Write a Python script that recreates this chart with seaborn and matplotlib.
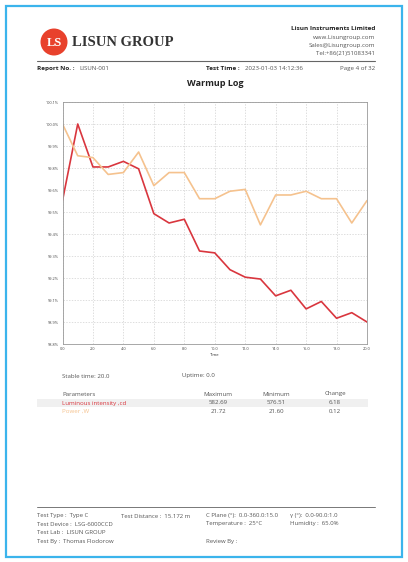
import numpy as np
import pandas as pd
import matplotlib
matplotlib.use("Agg")
import matplotlib.pyplot as plt
from matplotlib.patches import Rectangle, Ellipse
from matplotlib.lines import Line2D
import seaborn as sns

# warmup log data (percent of maximum)
time = list(range(0, 21))
luminous = [99.59, 100.00, 99.77, 99.77, 99.80, 99.76, 99.52, 99.47, 99.49, 99.32, 99.31,
            99.22, 99.18, 99.17, 99.08, 99.11, 99.01, 99.05, 98.96, 98.99, 98.94]
power = [100.00, 99.83, 99.82, 99.73, 99.74, 99.85, 99.67, 99.74, 99.74, 99.60, 99.60,
         99.64, 99.65, 99.46, 99.62, 99.62, 99.64, 99.60, 99.60, 99.47, 99.59]
series_names = ["Luminous intensity ,cd", "Power ,W"]
series_colors = ["#d9363e", "#f5c28e"]

# summary table
param_max = ["582.69", "21.72"]
param_min = ["576.51", "21.60"]
param_change = ["6.18", "0.12"]

df = pd.DataFrame({
    "Time": time * 2,
    "value": luminous + power,
    "series": [series_names[0]] * len(time) + [series_names[1]] * len(time),
})

sns.set_style("white")
plt.rcParams["font.family"] = ["Open Sans", "DejaVu Sans"]

W, H = 408, 562
fig = plt.figure(figsize=(W / 100, H / 100), dpi=100)
fig.patch.set_facecolor("white")


def fx(px):
    return px / W


def fy(py):
    return 1 - py / H


# page frame
fig.patches.append(Rectangle((fx(6), fy(557)), fx(396), (551) / H, transform=fig.transFigure,
                             fill=False, edgecolor="#3bb4ec", linewidth=1.6))

# logo
fig.patches.append(Ellipse((fx(54), fy(42)), 27 / W, 27 / H, transform=fig.transFigure,
                           facecolor="#e8412c", edgecolor="none"))
fig.text(fx(54), fy(42.5), "LS", color="white", fontsize=9, fontweight="bold",
         ha="center", va="center", family="Liberation Serif")
fig.text(fx(72), fy(42), "LISUN GROUP", color="#333333", fontsize=10.5, fontweight="bold",
         ha="left", va="center", family="Liberation Serif")

# company info
fig.text(fx(375), fy(29), "Lisun Instruments Limited", fontsize=4.6, fontweight="bold",
         ha="right", va="center", color="#222222")
for i, line in enumerate(["www.Lisungroup.com", "Sales@Lisungroup.com", "Tel:+86(21)51083341"]):
    fig.text(fx(375), fy(37 + 8 * i), line, fontsize=4.4, ha="right", va="center", color="#555555")
fig.add_artist(Line2D([fx(37), fx(375)], [fy(61), fy(61)], transform=fig.transFigure,
                      color="#666666", linewidth=0.8))

fig.text(fx(37), fy(68), "Report No. :", fontsize=4.6, fontweight="bold", va="center", color="#222222")
fig.text(fx(79), fy(68), "LISUN-001", fontsize=4.4, va="center", color="#555555")
fig.text(fx(206), fy(68), "Test Time :", fontsize=4.6, fontweight="bold", va="center", color="#222222")
fig.text(fx(245), fy(68), "2023-01-03 14:12:36", fontsize=4.4, va="center", color="#555555")
fig.text(fx(375), fy(68), "Page 4 of 32", fontsize=4.4, ha="right", va="center", color="#555555")

fig.text(fx(215), fy(84), "Warmup Log", fontsize=6.5, fontweight="bold", ha="center", va="center",
         color="#222222")

# chart
ax = fig.add_axes([fx(62.5), fy(344), fx(367 - 62.5), (344 - 102) / H])
sns.lineplot(data=df, x="Time", y="value", hue="series", palette=dict(zip(series_names, series_colors)),
             linewidth=1.2, legend=False, ax=ax)

step = (100.0 - min(luminous)) / 9
ymax = 100.0 + step
ymin = min(luminous) - step
yt = np.linspace(ymin, ymax, 12)
ax.set_ylim(ymin, ymax)
ax.set_yticks(yt)
ax.set_yticklabels(["%.1f%%" % v for v in yt])
ax.set_xlim(0, 20)
ax.set_xticks(range(0, 21, 2))
ax.set_xticklabels(["%.1f" % v for v in range(0, 21, 2)])
ax.set_xlabel("Time", fontsize=3, labelpad=1)
ax.set_ylabel("")
ax.tick_params(axis="both", labelsize=2.8, length=1.5, width=0.4, pad=1, colors="#444444")
ax.grid(True, linestyle=(0, (2, 2)), color="#d0d0d0", linewidth=0.5)
for s in ax.spines.values():
    s.set_color("#999999")
    s.set_linewidth(0.6)

# stats
fig.text(fx(62), fy(376), "Stable time: 20.0", fontsize=4.4, va="center", color="#555555")
fig.text(fx(182), fy(376), "Uptime: 0.0", fontsize=4.4, va="center", color="#555555")

fig.text(fx(62), fy(394), "Parameters", fontsize=4.4, va="center", color="#555555")
col_x = [218, 276, 335]
for cx, head in zip(col_x, ["Maximum", "Minimum", "Change"]):
    fig.text(fx(cx), fy(394), head, fontsize=4.4, ha="center", va="center", color="#555555")
fig.patches.append(Rectangle((fx(37), fy(407)), fx(331), 8 / H, transform=fig.transFigure,
                             facecolor="#f0f0f0", edgecolor="none"))
for i in range(len(series_names)):
    yy = fy(403 + 8.5 * i)
    fig.text(fx(62), yy, series_names[i], fontsize=4.4, va="center", color=series_colors[i])
    for cx, val in zip(col_x, [param_max[i], param_min[i], param_change[i]]):
        fig.text(fx(cx), yy, val, fontsize=4.4, ha="center", va="center", color="#555555")

# footer
fig.add_artist(Line2D([fx(37), fx(375)], [fy(507), fy(507)], transform=fig.transFigure,
                      color="#777777", linewidth=0.7))
footer = [
    (37, 516, "Test Type :  Type C"), (121, 516, "Test Distance :  15.172 m"),
    (206, 516, "C Plane (°):  0.0-360.0:15.0"), (290, 516, "γ (°):  0.0-90.0:1.0"),
    (37, 524, "Test Device :  LSG-6000CCD"), (206, 524, "Temperature :  25°C"),
    (290, 524, "Humidity :  65.0%"),
    (37, 532, "Test Lab :  LISUN GROUP"),
    (37, 541, "Test By :  Thomas Flodorow"), (206, 541, "Review By :"),
]
for x, y, t in footer:
    fig.text(fx(x), fy(y), t, fontsize=4.3, va="center", color="#555555")

fig.savefig("out.png", dpi=100)
